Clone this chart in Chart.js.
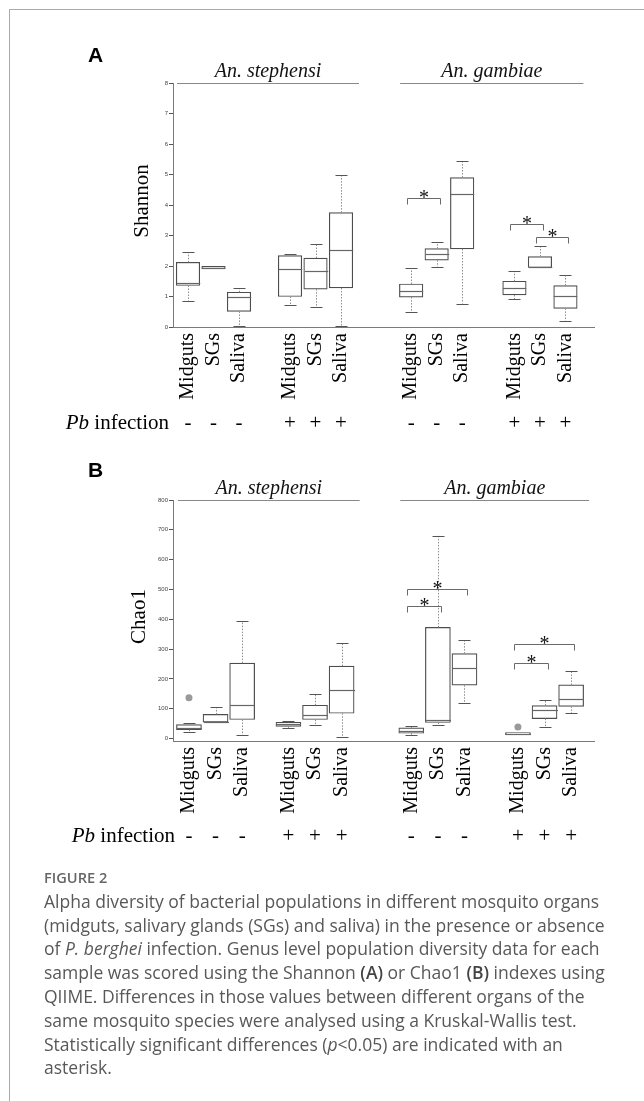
<!DOCTYPE html>
<html>
<head>
<meta charset="utf-8">
<script src="https://cdn.jsdelivr.net/npm/chart.js@4.4.0/dist/chart.umd.min.js"></script>
<style>
    body { margin: 0; background: #fff; }
    #page { position: relative; width: 644px; height: 1101px; overflow: hidden; }
    .frame-top { position: absolute; left: 9px; top: 9px; width: 635px; height: 1px; background: #aaa; }
    .frame-left { position: absolute; left: 9px; top: 9px; width: 1px; height: 1092px; background: #aaa; }
    canvas { position: absolute; left: 0; }
    #chartA { top: 0; }
    #chartB { top: 450px; }
    .caption { position: absolute; left: 44px; top: 866px; font-family: 'Open Sans'; color: #585858;
               font-size: 17.5px; line-height: 23.8px; white-space: nowrap; }
    .caption .fig { font-size: 14.6px; font-weight: 600; color: #666; }
    .caption b { font-weight: 600; color: #444; }
</style>
</head>
<body>
<div id="page">
    <canvas id="chartA" width="644" height="450"></canvas>
    <canvas id="chartB" width="644" height="420"></canvas>
    <div class="caption">
        <div class="fig">FIGURE 2</div>
        Alpha diversity of bacterial populations in different mosquito organs<br>
        (midguts, salivary glands (SGs) and saliva) in the presence or absence<br>
        of <i>P. berghei</i> infection. Genus level population diversity data for each<br>
        sample was scored using the Shannon <b>(A)</b> or Chao1 <b>(B)</b> indexes using<br>
        QIIME. Differences in those values between different organs of the<br>
        same mosquito species were analysed using a Kruskal-Wallis test.<br>
        Statistically significant differences (<i>p</i>&lt;0.05) are indicated with an<br>
        asterisk.
    </div>
    <div class="frame-top"></div>
    <div class="frame-left"></div>
</div>
<script>
// Datos
const organs = ['Midguts', 'SGs', 'Saliva'];
const species = ['An. stephensi', 'An. gambiae'];
const infection = ['-', '-', '-', '+', '+', '+', '-', '-', '-', '+', '+', '+'];

// Shannon (orden: stephensi -, stephensi +, gambiae -, gambiae +)
const shannonMin = [0.85, 1.91, 0.04, 0.73, 0.65, 0.04, 0.48, 1.98, 0.77, 0.92, 1.95, 0.21];
const shannonQ1  = [1.36, 1.91, 0.51, 1.00, 1.24, 1.28, 0.98, 2.19, 2.56, 1.05, 1.95, 0.61];
const shannonMed = [1.44, 1.95, 0.98, 1.90, 1.82, 2.51, 1.17, 2.39, 4.37, 1.28, 1.96, 1.01];
const shannonQ3  = [2.12, 1.99, 1.14, 2.34, 2.26, 3.75, 1.41, 2.57, 4.90, 1.50, 2.31, 1.36];
const shannonMax = [2.45, 1.99, 1.28, 2.40, 2.72, 4.98, 1.93, 2.78, 5.43, 1.84, 2.64, 1.70];
const shannonTicks = [0, 1, 2, 3, 4, 5, 6, 7, 8];
const shannonStars = [[6, 7, 4.22], [9, 10, 3.38], [10, 11, 2.94]];

// Chao1
const chaoMin = [21, 55, 13, 34, 47, 7, 11, 44, 121, 13, 40, 85];
const chaoQ1  = [30, 55, 64, 41, 64, 85, 18, 54, 179, 13, 67, 108];
const chaoMed = [35, 57, 113, 48, 78, 164, 27, 64, 237, 16, 97, 134];
const chaoQ3  = [47, 81, 253, 55, 112, 243, 36, 373, 285, 20, 111, 180];
const chaoMax = [53, 106, 394, 59, 148, 321, 42, 680, 332, 20, 128, 226];
const chaoTicks = [0, 100, 200, 300, 400, 500, 600, 700, 800];
const chaoOutliers = [[0, 137], [9, 39]];
const chaoStars = [[6, 7, 443], [6, 8, 503], [9, 10, 254], [9, 11, 316]];

const serif = '"Liberation Serif", "Times New Roman", serif';

function boxPositions(groupStart) {
    const pos = [];
    groupStart.forEach(g => organs.forEach((o, i) => pos.push(g + i)));
    return pos;
}

function px(v) { return Math.round(v) + 0.5; }

function line(ctx, x1, y1, x2, y2) {
    ctx.beginPath();
    ctx.moveTo(x1, y1);
    ctx.lineTo(x2, y2);
    ctx.stroke();
}

// Bigotes, medianas, corchetes y textos alrededor del grafico
const boxDecor = {
    id: 'boxDecor',
    afterDatasetsDraw(chart, args, o) {
        const ctx = chart.ctx;
        const x = chart.scales.x, y = chart.scales.y;
        ctx.save();
        ctx.lineWidth = 1;
        o.pos.forEach((p, i) => {
            const cx = px(x.getPixelForValue(p));
            const yMin = y.getPixelForValue(o.min[i]);
            const yQ1 = y.getPixelForValue(o.q1[i]);
            const yMed = y.getPixelForValue(o.med[i]);
            const yQ3 = y.getPixelForValue(o.q3[i]);
            const yMax = y.getPixelForValue(o.max[i]);
            ctx.setLineDash([1.5, 1.5]);
            ctx.strokeStyle = '#8c8c8c';
            if (yMax < yQ3 - 1) line(ctx, cx, yQ3, cx, yMax);
            if (yMin > yQ1 + 1) line(ctx, cx, yQ1, cx, yMin);
            ctx.setLineDash([]);
            ctx.strokeStyle = '#555';
            if (yMax < yQ3 - 1) line(ctx, cx - 6, px(yMax), cx + 6, px(yMax));
            if (yMin > yQ1 + 1) line(ctx, cx - 6, px(yMin), cx + 6, px(yMin));
            ctx.strokeStyle = '#666';
            ctx.lineWidth = 1.2;
            line(ctx, cx - o.boxW / 2, px(yMed), cx + o.boxW / 2, px(yMed));
            ctx.lineWidth = 1;
        });

        // corchetes de significancia
        ctx.strokeStyle = '#6a6a6a';
        ctx.fillStyle = '#111';
        ctx.font = '20px ' + serif;
        ctx.textAlign = 'center';
        ctx.textBaseline = 'alphabetic';
        o.stars.forEach(([a, b, v]) => {
            const x1 = px(x.getPixelForValue(o.pos[a]) - 4);
            const x2 = px(x.getPixelForValue(o.pos[b]) + 3);
            const yb = px(y.getPixelForValue(v));
            ctx.beginPath();
            ctx.moveTo(x1, yb + 6);
            ctx.lineTo(x1, yb);
            ctx.lineTo(x2, yb);
            ctx.lineTo(x2, yb + 6);
            ctx.stroke();
            ctx.fillText('*', (x1 + x2) / 2, yb + 5);
        });
        ctx.restore();
    },
    afterDraw(chart, args, o) {
        const ctx = chart.ctx;
        const area = chart.chartArea;
        const x = chart.scales.x;
        ctx.save();

        // letra del panel
        ctx.fillStyle = '#000';
        ctx.font = 'bold 21px "Liberation Sans", Arial, sans-serif';
        ctx.textAlign = 'left';
        ctx.textBaseline = 'alphabetic';
        ctx.fillText(o.letter, 88, o.letterY);

        // especies con linea
        ctx.font = 'italic 20px ' + serif;
        ctx.textAlign = 'center';
        ctx.fillStyle = '#111';
        ctx.strokeStyle = '#888';
        ctx.lineWidth = 1;
        species.forEach((s, g) => {
            const x1 = x.getPixelForValue(o.pos[g * 6]) - 11;
            const x2 = x.getPixelForValue(o.pos[g * 6 + 5]) + 18;
            line(ctx, x1, px(area.top), x2, px(area.top));
            ctx.fillText(s, (x1 + x2) / 2, area.top - 6);
        });

        // titulo del eje y
        ctx.save();
        ctx.translate(area.left - o.titleDx, (area.top + area.bottom) / 2 - 4);
        ctx.rotate(-Math.PI / 2);
        ctx.font = '21px ' + serif;
        ctx.fillStyle = '#000';
        ctx.textBaseline = 'middle';
        ctx.fillText(o.title, 0, 0);
        ctx.restore();

        // fila de infeccion
        const rowY = area.bottom + o.rowDy;
        ctx.fillStyle = '#000';
        ctx.textAlign = 'left';
        ctx.font = '21px ' + serif;
        const restW = ctx.measureText(' infection').width;
        ctx.font = 'italic 21px ' + serif;
        const pbW = ctx.measureText('Pb').width;
        const endX = area.left + o.rowEndDx;
        ctx.fillText('Pb', endX - restW - pbW, rowY);
        ctx.font = '21px ' + serif;
        ctx.fillText(' infection', endX - restW, rowY);
        ctx.textAlign = 'center';
        infection.forEach((s, i) => {
            ctx.fillText(s, x.getPixelForValue(o.pos[i]), rowY);
        });
        ctx.restore();
    }
};

function makePanel(id, cfg) {
    const pos = boxPositions(cfg.groupStart);
    return new Chart(document.getElementById(id), {
        type: 'bar',
        data: {
            datasets: [{
                type: 'bar',
                data: pos.map((p, i) => ({ x: p, y: [cfg.q1[i], cfg.q3[i]] })),
                backgroundColor: '#fff',
                borderColor: '#4d4d4d',
                borderWidth: 1.2,
                borderSkipped: false,
                barThickness: cfg.boxW,
                grouped: false
            }, {
                type: 'scatter',
                data: cfg.outliers.map(([b, v]) => ({ x: pos[b], y: v })),
                pointRadius: 3.5,
                backgroundColor: '#9a9a9a',
                borderWidth: 0
            }]
        },
        options: {
            responsive: false,
            animation: false,
            devicePixelRatio: 1,
            layout: { padding: { top: cfg.top, right: 50, left: 0, bottom: 0 } },
            plugins: {
                legend: { display: false },
                tooltip: { enabled: false },
                boxDecor: {
                    pos: pos, min: cfg.min, q1: cfg.q1, med: cfg.med, q3: cfg.q3, max: cfg.max,
                    boxW: cfg.boxW, stars: cfg.stars, letter: cfg.letter, letterY: cfg.letterY,
                    title: cfg.title, titleDx: cfg.titleDx, rowDy: cfg.rowDy, rowEndDx: cfg.rowEndDx
                }
            },
            scales: {
                x: {
                    type: 'linear',
                    position: 'bottom',
                    min: cfg.xMin,
                    max: cfg.xMax,
                    offset: false,
                    afterBuildTicks: s => { s.ticks = pos.map(v => ({ value: v })); },
                    afterFit: s => { s.height = cfg.height - cfg.bottom; },
                    grid: { drawOnChartArea: false, drawTicks: false },
                    border: { color: '#7a7a7a', width: 1 },
                    ticks: {
                        autoSkip: false,
                        minRotation: 90,
                        maxRotation: 90,
                        padding: 6,
                        color: '#000',
                        font: { family: serif, size: 20 },
                        callback: (v, i) => organs[i % 3]
                    }
                },
                y: {
                    min: cfg.yMin,
                    max: cfg.yMax,
                    afterBuildTicks: s => { s.ticks = cfg.ticks.map(v => ({ value: v })); },
                    afterFit: s => { s.width = 173; },
                    grid: { drawOnChartArea: false, drawTicks: true, tickLength: 4, color: '#555' },
                    border: { color: '#7a7a7a', width: 1 },
                    ticks: {
                        padding: 1,
                        color: '#444',
                        font: { family: '"Liberation Sans", Arial, sans-serif', size: 6 }
                    }
                }
            }
        },
        plugins: [boxDecor]
    });
}

makePanel('chartA', {
    groupStart: [0, 4, 8.75, 12.8], xMin: -0.588, xMax: 15.92,
    yMin: 0, yMax: 8, ticks: shannonTicks,
    min: shannonMin, q1: shannonQ1, med: shannonMed, q3: shannonQ3, max: shannonMax,
    outliers: [], stars: shannonStars,
    boxW: 23.5, top: 83, bottom: 327, height: 450,
    letter: 'A', letterY: 62, title: 'Shannon', titleDx: 31, rowDy: 102, rowEndDx: -4
});

makePanel('chartB', {
    groupStart: [0, 3.74, 8.36, 12.37], xMin: -0.60, xMax: 15.23,
    yMin: -8, yMax: 800, ticks: chaoTicks,
    min: chaoMin, q1: chaoQ1, med: chaoMed, q3: chaoQ3, max: chaoMax,
    outliers: chaoOutliers, stars: chaoStars,
    boxW: 25, top: 50, bottom: 291, height: 420,
    letter: 'B', letterY: 27, title: 'Chao1', titleDx: 34, rowDy: 101, rowEndDx: 2
});
</script>
</body>
</html>
